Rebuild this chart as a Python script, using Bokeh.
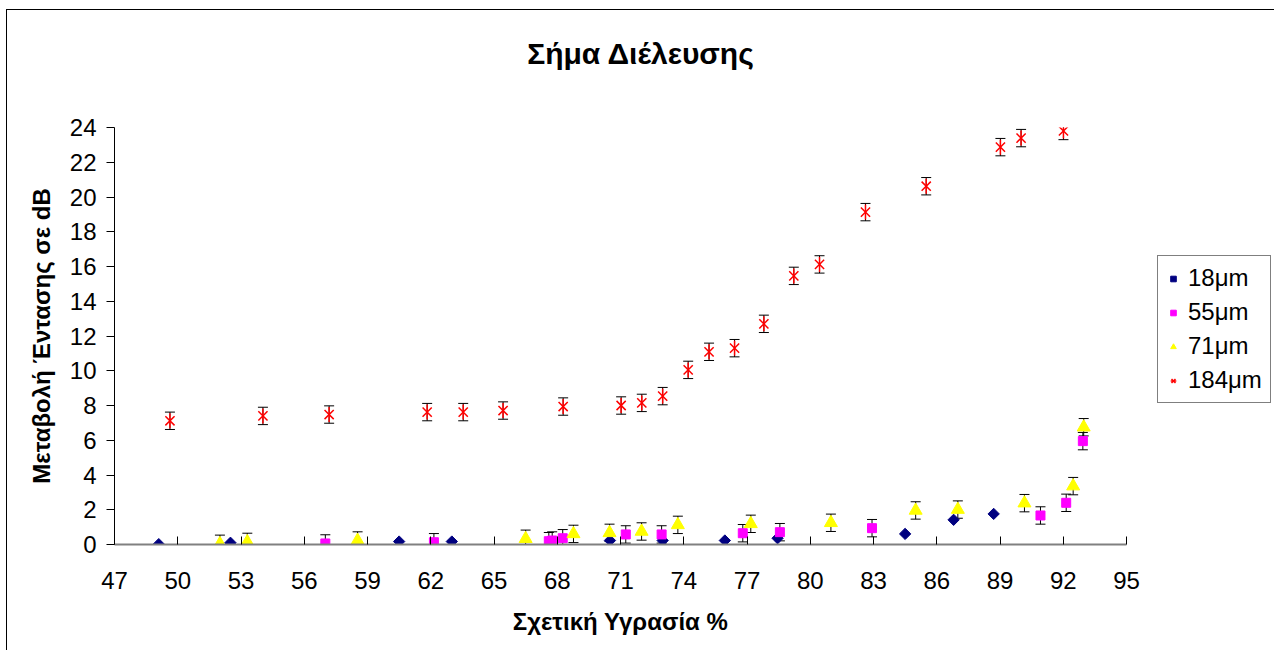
from bokeh.plotting import figure
from bokeh.models import (Range1d, FixedTicker, ColumnDataSource, Whisker, TeeHead,
                          Legend, LegendItem, Div)
from bokeh.layouts import column, row
from bokeh.embed import file_html
from bokeh.resources import INLINE

# Relative humidity (%) and intensity change (dB) per film thickness
rh_18 = [49.1, 52.5, 60.5, 63.0, 70.5, 73.0, 75.95, 78.45, 84.5, 86.8, 88.7]
db_18 = [0.02, 0.10, 0.17, 0.17, 0.23, 0.23, 0.23, 0.36, 0.61, 1.42, 1.76]

rh_55 = [57.0, 62.15, 67.6, 67.76, 68.26, 71.25, 72.95, 76.8, 78.56, 82.93, 90.92, 92.14, 92.93]
db_55 = [0.06, 0.13, 0.19, 0.23, 0.36, 0.58, 0.58, 0.65, 0.71, 0.94, 1.67, 2.40, 5.95]
err_55 = [0.5, 0.5, 0.5, 0.5, 0.5, 0.5, 0.5, 0.5, 0.5, 0.5, 0.5, 0.5, 0.5]

rh_71 = [52.0, 53.3, 58.53, 66.5, 68.77, 70.48, 72.0, 73.72, 77.18, 80.98, 85.0, 87.0, 90.16, 92.47, 92.97]
db_71 = [0.04, 0.15, 0.23, 0.33, 0.61, 0.67, 0.75, 1.13, 1.19, 1.25, 1.96, 2.01, 2.38, 3.36, 6.75]
err_71 = [0.5, 0.5, 0.5, 0.5, 0.5, 0.5, 0.5, 0.5, 0.5, 0.5, 0.5, 0.5, 0.5, 0.5, 0.5]

rh_184 = [49.63, 54.04, 57.18, 61.83, 63.54, 65.43, 68.28, 71.03, 72.01, 73.0, 74.21, 75.2,
          76.41, 77.8, 79.22, 80.44, 82.62, 85.5, 89.02, 90.0, 92.01]
db_184 = [7.12, 7.40, 7.48, 7.62, 7.62, 7.71, 7.94, 8.0, 8.15, 8.54, 10.05, 11.09,
          11.30, 12.70, 15.46, 16.12, 19.13, 20.62, 22.87, 23.39, 23.8]
err_184 = [0.5, 0.5, 0.5, 0.5, 0.5, 0.5, 0.5, 0.5, 0.5, 0.5, 0.5,
           0.5, 0.5, 0.5, 0.5, 0.5, 0.5, 0.5, 0.5, 0.5, 0.5]

series_labels = ["18μm", "55μm", "71μm", "184μm"]
x_ticks = [47, 50, 53, 56, 59, 62, 65, 68, 71, 74, 77, 80, 83, 86, 89, 92, 95]
y_ticks = [0, 2, 4, 6, 8, 10, 12, 14, 16, 18, 20, 22, 24]

FONT = "Liberation Sans"
TITLE = "Σήμα Διέλευσης"

# marker styles shared by the chart and its key
STY_18 = dict(marker="square", angle=0.7854, size=8, fill_color="#000080", line_color="#000080")
STY_55 = dict(marker="square", size=9, fill_color="#FF00FF", line_color="#FF00FF")
STY_71 = dict(marker="triangle", size=13, fill_color="#FFFF00", line_color="#FFFF00")
STY_184X = dict(marker="x", size=13, line_color="#FF0000", line_width=1.5)
STY_184I = dict(marker="dash", size=15, angle=1.5708, line_color="#FF0000", line_width=1.5)

title_div = Div(
    text=(f'<div style="padding-top:29px;font-family:\'{FONT}\';font-weight:bold;'
          f'font-size:30px;line-height:30px;text-align:center;width:1267px;'
          f'color:#000">{TITLE}</div>'),
    width=1267, height=80, margin=0)

p = figure(width=1139, height=560,
           x_range=Range1d(47, 95), y_range=Range1d(0, 24),
           output_backend="svg", toolbar_location=None,
           min_border_left=107, min_border_right=20,
           min_border_top=37, min_border_bottom=106)
p.margin = 0
p.outline_line_color = None
p.grid.visible = False
p.background_fill_color = "white"
p.border_fill_color = "white"

# axes
p.xaxis.ticker = FixedTicker(ticks=x_ticks)
p.yaxis.ticker = FixedTicker(ticks=y_ticks)
for ax in (p.xaxis, p.yaxis):
    ax.minor_tick_line_color = None
    ax.major_label_text_font = FONT
    ax.major_label_text_font_size = "24px"
    ax.major_label_text_color = "black"
    ax.axis_label_text_font = FONT
    ax.axis_label_text_font_size = "24px"
    ax.axis_label_text_font_style = "bold"
    ax.axis_label_text_color = "black"
    ax.major_tick_line_color = "black"

p.xaxis.axis_label = "Σχετική Υγρασία %"
p.xaxis.axis_line_color = "#808080"
p.xaxis.axis_line_width = 2
p.xaxis.major_tick_in = 8
p.xaxis.major_tick_out = 0
p.xaxis.major_label_standoff = 27
p.xaxis.axis_label_standoff = 16

p.yaxis.axis_label = "Μεταβολή Έντασης σε dB"
p.yaxis.axis_line_color = "black"
p.yaxis.major_tick_in = 0
p.yaxis.major_tick_out = 8
p.yaxis.major_label_standoff = 10
p.yaxis.axis_label_standoff = 12

# error bars
def add_errors(xs, ys, es):
    src = ColumnDataSource(dict(x=xs, lo=[y - e for y, e in zip(ys, es)],
                                hi=[y + e for y, e in zip(ys, es)]))
    w = Whisker(source=src, base="x", lower="lo", upper="hi",
                line_color="black", line_width=1,
                lower_head=TeeHead(size=10, line_color="black", line_width=1),
                upper_head=TeeHead(size=10, line_color="black", line_width=1))
    p.add_layout(w)

add_errors(rh_55, db_55, err_55)
add_errors(rh_71, db_71, err_71)
add_errors(rh_184, db_184, err_184)

p.scatter(rh_18, db_18, **STY_18)
p.scatter(rh_55, db_55, **STY_55)
p.scatter(rh_71, db_71, **STY_71)
p.scatter(rh_184, db_184, **STY_184X)
p.scatter(rh_184, db_184, **STY_184I)

# key panel to the right of the plotting area; its renderers reuse the series
# data, which lies outside the key's own ranges, so only the legend swatches show
key = figure(width=128, height=560, x_range=Range1d(0, 1), y_range=Range1d(0, 1),
             output_backend="svg", toolbar_location=None,
             x_axis_location=None, y_axis_location=None,
             min_border_left=0, min_border_right=0, min_border_top=0, min_border_bottom=0)
key.margin = 0
key.outline_line_color = None
key.grid.visible = False
k18 = key.scatter(rh_18, db_18, **STY_18)
k55 = key.scatter(rh_55, db_55, **STY_55)
k71 = key.scatter(rh_71, db_71, **STY_71)
k184a = key.scatter(rh_184, db_184, **STY_184X)
k184b = key.scatter(rh_184, db_184, **STY_184I)

legend = Legend(items=[LegendItem(label=series_labels[0], renderers=[k18]),
                       LegendItem(label=series_labels[1], renderers=[k55]),
                       LegendItem(label=series_labels[2], renderers=[k71]),
                       LegendItem(label=series_labels[3], renderers=[k184a, k184b])],
                location=(11, 141))
legend.label_text_font = FONT
legend.label_text_font_size = "24px"
legend.label_text_color = "black"
legend.border_line_color = "black"
legend.border_line_width = 1
legend.background_fill_alpha = 1
legend.glyph_width = 14
legend.glyph_height = 27
legend.label_height = 27
legend.spacing = 6
legend.padding = 8
legend.margin = 0
legend.label_standoff = 8
key.add_layout(legend)

page = column(title_div, row(p, key, spacing=0), spacing=0)
page.margin = (9, 0, 0, 6)
page.styles = {"border-top": "1px solid #000", "border-left": "1px solid #000",
               "background-color": "white"}

open("out.html", "w").write(file_html(page, INLINE))
